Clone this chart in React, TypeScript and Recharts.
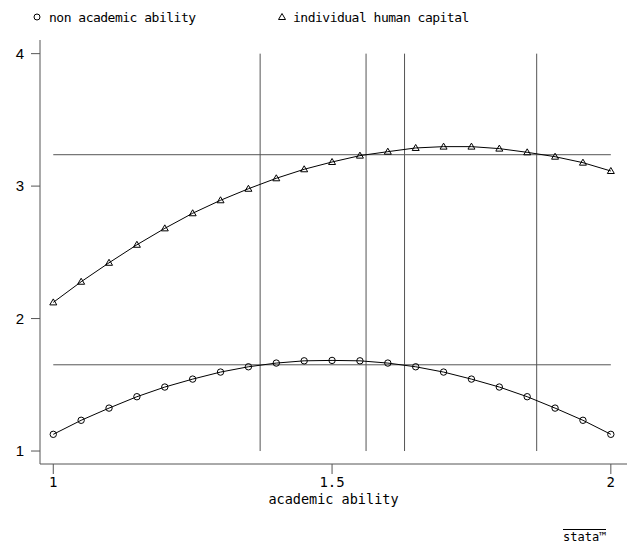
import React from 'react';
import { ComposedChart, Line, XAxis, YAxis, ReferenceLine } from 'recharts';

const abilityX = [1, 1.05, 1.1, 1.15, 1.2, 1.25, 1.3, 1.35, 1.4, 1.45, 1.5, 1.55, 1.6, 1.65, 1.7, 1.75, 1.8, 1.85, 1.9, 1.95, 2];
const nonAcademic = [1.126, 1.232, 1.324, 1.41, 1.483, 1.543, 1.596, 1.636, 1.664, 1.681, 1.684, 1.681, 1.664, 1.636, 1.596, 1.543, 1.483, 1.41, 1.324, 1.232, 1.126];
const humanCapital = [2.122, 2.278, 2.421, 2.557, 2.681, 2.795, 2.893, 2.98, 3.059, 3.127, 3.182, 3.23, 3.26, 3.288, 3.298, 3.298, 3.283, 3.255, 3.222, 3.177, 3.114];
const xTicks = [1, 1.5, 2];
const yTicks = [1, 2, 3, 4];
const verticalCuts = [1.371, 1.561, 1.63, 1.867];
const horizontalCuts = [1.651, 3.237];
const seriesNames = ['non academic ability', 'individual human capital'];
const xLabel = 'academic ability';

const data = abilityX.map((x, i) => ({ x, na: nonAcademic[i], hc: humanCapital[i] }));

const MONO = '"DejaVu Sans Mono", "Liberation Mono", monospace';
const SANS = '"Liberation Sans", Arial, sans-serif';

const Triangle = (props: any) => {
  const { cx, cy } = props;
  if (cx == null || cy == null) return null;
  return (
    <path
      d={`M${cx},${cy - 3.5} L${cx + 3.5},${cy + 2.5} L${cx - 3.5},${cy + 2.5} Z`}
      fill="none"
      stroke="#000"
      strokeWidth={1}
    />
  );
};

export default function App() {
  return (
    <div style={{ position: 'absolute', left: 0, top: 0, width: 630, height: 552, background: '#fff' }}>
      <ComposedChart width={630} height={552} data={data} margin={{ top: 40, right: 3, left: 0, bottom: 0 }}>
        <XAxis
          dataKey="x"
          type="number"
          domain={[0.9762, 2.029]}
          allowDataOverflow
          ticks={xTicks}
          height={88}
          tickSize={10}
          tickMargin={3}
          stroke="#555"
          tick={{ fill: '#000', fontFamily: MONO, fontSize: 14 }}
          tickFormatter={(v: number) => String(v)}
          label={{ value: xLabel, position: 'insideTop', offset: 30, fill: '#000', fontFamily: MONO, fontSize: 13.5 }}
        />
        <YAxis
          type="number"
          domain={[0.902, 4.103]}
          allowDataOverflow
          ticks={yTicks}
          width={40}
          tickSize={9}
          tickMargin={7}
          stroke="#555"
          tick={{ fill: '#000', fontFamily: SANS, fontSize: 15 }}
        />
        {verticalCuts.map((v) => (
          <ReferenceLine
            key={'v' + v}
            segment={[{ x: v, y: 1 }, { x: v, y: 4 }]}
            stroke="#555"
            strokeWidth={1}
            ifOverflow="visible"
          />
        ))}
        {horizontalCuts.map((h) => (
          <ReferenceLine
            key={'h' + h}
            segment={[{ x: 1, y: h }, { x: 2, y: h }]}
            stroke="#555"
            strokeWidth={1}
            ifOverflow="visible"
          />
        ))}
        <Line
          dataKey="na"
          name={seriesNames[0]}
          type="linear"
          stroke="#000"
          strokeWidth={1}
          dot={{ r: 3.2, fill: 'none', stroke: '#000', strokeWidth: 1 }}
          isAnimationActive={false}
        />
        <Line
          dataKey="hc"
          name={seriesNames[1]}
          type="linear"
          stroke="#000"
          strokeWidth={1}
          dot={<Triangle />}
          isAnimationActive={false}
        />
      </ComposedChart>
      <svg width={630} height={34} style={{ position: 'absolute', left: 0, top: 0 }}>
        <circle cx={37} cy={17} r={3} fill="none" stroke="#000" strokeWidth={1} />
        <text x={49} y={22} fontFamily={MONO} fontSize={13} letterSpacing={-0.5} fill="#000">{seriesNames[0]}</text>
        <path d="M282,13.5 L285.5,19.5 L278.5,19.5 Z" fill="none" stroke="#000" strokeWidth={1} />
        <text x={293} y={22} fontFamily={MONO} fontSize={13} letterSpacing={-0.5} fill="#000">{seriesNames[1]}</text>
      </svg>
      <div
        style={{
          position: 'absolute',
          left: 563,
          top: 529,
          fontFamily: MONO,
          fontSize: 12,
          lineHeight: '12px',
          borderTop: '1px solid #000',
          paddingTop: 1,
          color: '#000',
        }}
      >
        stata™
      </div>
    </div>
  );
}
